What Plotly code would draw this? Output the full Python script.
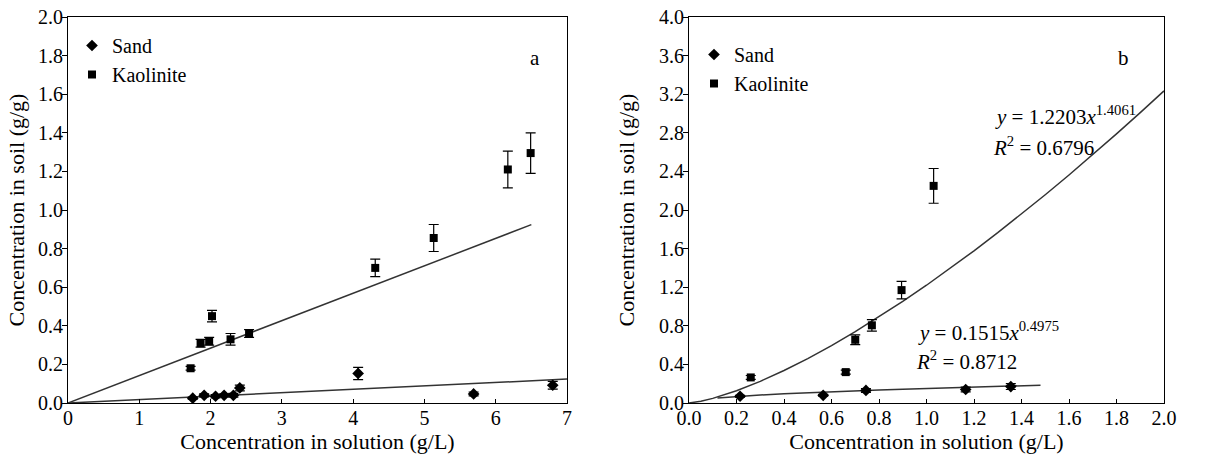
import plotly.graph_objects as go

# ---------------- Panel a data ----------------
a_kaol_x = [1.72, 1.86, 1.98, 2.02, 2.28, 2.54, 4.31, 5.13, 6.17, 6.49]
a_kaol_y = [0.18, 0.31, 0.32, 0.45, 0.33, 0.36, 0.70, 0.855, 1.21, 1.295]
a_kaol_err = [0.01, 0.02, 0.02, 0.03, 0.03, 0.02, 0.045, 0.07, 0.095, 0.105]

a_sand_x = [1.75, 1.91, 2.07, 2.19, 2.32, 2.41, 4.07, 5.69, 6.80]
a_sand_y = [0.025, 0.04, 0.035, 0.04, 0.04, 0.078, 0.153, 0.047, 0.092]
a_sand_err = [0.005, 0.008, 0.008, 0.008, 0.01, 0.015, 0.032, 0.01, 0.02]

a_kaol_fit_x = [0.0, 6.5]
a_kaol_fit_y = [0.0, 0.924]
a_sand_fit_x = [0.0, 7.0]
a_sand_fit_y = [0.0, 0.124]

# ---------------- Panel b data ----------------
b_kaol_x = [0.26, 0.66, 0.70, 0.77, 0.895, 1.03]
b_kaol_y = [0.265, 0.32, 0.655, 0.805, 1.17, 2.25]
b_kaol_err = [0.02, 0.02, 0.05, 0.06, 0.09, 0.18]

b_sand_x = [0.215, 0.565, 0.745, 1.165, 1.355]
b_sand_y = [0.07, 0.08, 0.13, 0.14, 0.17]
b_sand_err = [0.01, 0.01, 0.02, 0.025, 0.03]

# power-law fits printed on the chart: y = a * x^b
b_kaol_fit = (1.2203, 1.4061)
b_sand_fit = (0.1515, 0.4975)
b_kaol_fit_x = [0.0, 0.05, 0.1, 0.15, 0.2, 0.3, 0.4, 0.5, 0.6, 0.7, 0.8, 0.9, 1.0,
                1.1, 1.2, 1.3, 1.4, 1.5, 1.6, 1.7, 1.8, 1.9, 2.0]
b_sand_fit_x = [0.12, 0.15, 0.2, 0.3, 0.4, 0.5, 0.6, 0.7, 0.8, 0.9, 1.0,
                1.1, 1.2, 1.3, 1.4, 1.48]

x_titles = ["Concentration in solution (g/L)", "Concentration in solution (g/L)"]
y_titles = ["Concentration in soil (g/g)", "Concentration in soil (g/g)"]
panel_labels = ["a", "b"]

FONT = "Times New Roman"
W, H = 1220, 457

b_kaol_fit_y = [b_kaol_fit[0] * (x ** b_kaol_fit[1]) for x in b_kaol_fit_x]
b_sand_fit_y = [b_sand_fit[0] * (x ** b_sand_fit[1]) for x in b_sand_fit_x]

fig = go.Figure()

def err(arr):
    return dict(type="data", array=arr, visible=True, color="black", thickness=1.2, width=5)

sq = dict(symbol="square", size=8, color="black")
dm = dict(symbol="diamond", size=9, color="black")
fitline = dict(color="#333333", width=1.5)

# Panel a
fig.add_trace(go.Scatter(x=a_kaol_fit_x, y=a_kaol_fit_y, mode="lines", line=fitline,
                         showlegend=False, xaxis="x", yaxis="y", hoverinfo="skip"))
fig.add_trace(go.Scatter(x=a_sand_fit_x, y=a_sand_fit_y, mode="lines", line=fitline,
                         showlegend=False, xaxis="x", yaxis="y", hoverinfo="skip"))
fig.add_trace(go.Scatter(x=a_sand_x, y=a_sand_y, mode="markers", marker=dm, name="Sand",
                         error_y=err(a_sand_err), xaxis="x", yaxis="y", legend="legend"))
fig.add_trace(go.Scatter(x=a_kaol_x, y=a_kaol_y, mode="markers", marker=sq, name="Kaolinite",
                         error_y=err(a_kaol_err), xaxis="x", yaxis="y", legend="legend"))

# Panel b
fig.add_trace(go.Scatter(x=b_kaol_fit_x, y=b_kaol_fit_y, mode="lines", line=fitline,
                         showlegend=False, xaxis="x2", yaxis="y2", hoverinfo="skip"))
fig.add_trace(go.Scatter(x=b_sand_fit_x, y=b_sand_fit_y, mode="lines", line=fitline,
                         showlegend=False, xaxis="x2", yaxis="y2", hoverinfo="skip"))
fig.add_trace(go.Scatter(x=b_sand_x, y=b_sand_y, mode="markers", marker=dm, name="Sand",
                         error_y=err(b_sand_err), xaxis="x2", yaxis="y2", legend="legend2"))
fig.add_trace(go.Scatter(x=b_kaol_x, y=b_kaol_y, mode="markers", marker=sq, name="Kaolinite",
                         error_y=err(b_kaol_err), xaxis="x2", yaxis="y2", legend="legend2"))

ybot = 1 - 403 / H
ytop = 1 - 17 / H
tickfont = dict(family=FONT, size=20, color="black")
titlefont = dict(family=FONT, size=22, color="black")

def xaxis(dom, rng, dtick, fmt, title, anchor):
    return dict(domain=dom, range=rng, dtick=dtick, tick0=0, tickformat=fmt,
                showline=True, mirror=True, linecolor="black", linewidth=1,
                showgrid=False, zeroline=False, ticks="inside", ticklen=4, tickcolor="black",
                tickfont=tickfont, anchor=anchor, automargin=False, ticklabelstandoff=-3,
                title=dict(text=title, font=titlefont, standoff=0))

def yaxis(dom, rng, dtick, title, anchor, standoff):
    return dict(domain=dom, range=rng, dtick=dtick, tick0=0, tickformat=".1f",
                showline=True, mirror=True, linecolor="black", linewidth=1,
                showgrid=False, zeroline=False, ticks="outside", ticklen=5, tickcolor="black",
                tickfont=tickfont, anchor=anchor, automargin=False, ticklabelstandoff=-5,
                title=dict(text=title, font=titlefont, standoff=standoff))

legfont = dict(family=FONT, size=20, color="black")

fig.update_layout(
    width=W, height=H,
    margin=dict(l=0, r=0, t=0, b=0, autoexpand=False),
    paper_bgcolor="white", plot_bgcolor="white",
    font=dict(family=FONT, color="black"),
    xaxis=xaxis([68 / W, 567 / W], [0, 7], 1, "d", x_titles[0], "y"),
    yaxis=yaxis([ybot, ytop], [0, 2.0], 0.2, y_titles[0], "x", 7),
    xaxis2=xaxis([689 / W, 1164 / W], [0, 2.0], 0.2, ".1f", x_titles[1], "y2"),
    yaxis2=yaxis([ybot, ytop], [0, 4.0], 0.4, y_titles[1], "x2", 18),
    legend=dict(x=72 / W, y=1 - 26 / H, xanchor="left", yanchor="top",
                font=legfont, bgcolor="rgba(0,0,0,0)",
                itemwidth=30, tracegroupgap=0),
    legend2=dict(x=694 / W, y=1 - 35 / H, xanchor="left", yanchor="top",
                 font=legfont, bgcolor="rgba(0,0,0,0)",
                 itemwidth=30, tracegroupgap=0),
    showlegend=True,
)

anns = [
    dict(text=panel_labels[0], x=535 / W, y=1 - 44 / H),
    dict(text=panel_labels[1], x=1131 / W, y=1 - 44 / H),
]
for a in anns:
    fig.add_annotation(xref="paper", yref="paper", x=a["x"], y=a["y"], text=a["text"],
                       showarrow=False, font=dict(family=FONT, size=21, color="black"))

eqs = [
    ("<i>y</i> = 1.2203<i>x</i><sup>1.4061</sup>", 993, 116),
    ("<i>R</i><sup>2</sup> = 0.6796", 991, 146),
    ("<i>y</i> = 0.1515<i>x</i><sup>0.4975</sup>", 916, 331),
    ("<i>R</i><sup>2</sup> = 0.8712", 914, 360),
]
for t, px, py in eqs:
    fig.add_annotation(xref="paper", yref="paper", x=px / W, y=1 - py / H, text=t,
                       xanchor="left", yanchor="middle", showarrow=False,
                       font=dict(family=FONT, size=21, color="black"))

fig.write_html("out.html", post_script="document.body.style.margin='0';",
               config={"displayModeBar": False})
